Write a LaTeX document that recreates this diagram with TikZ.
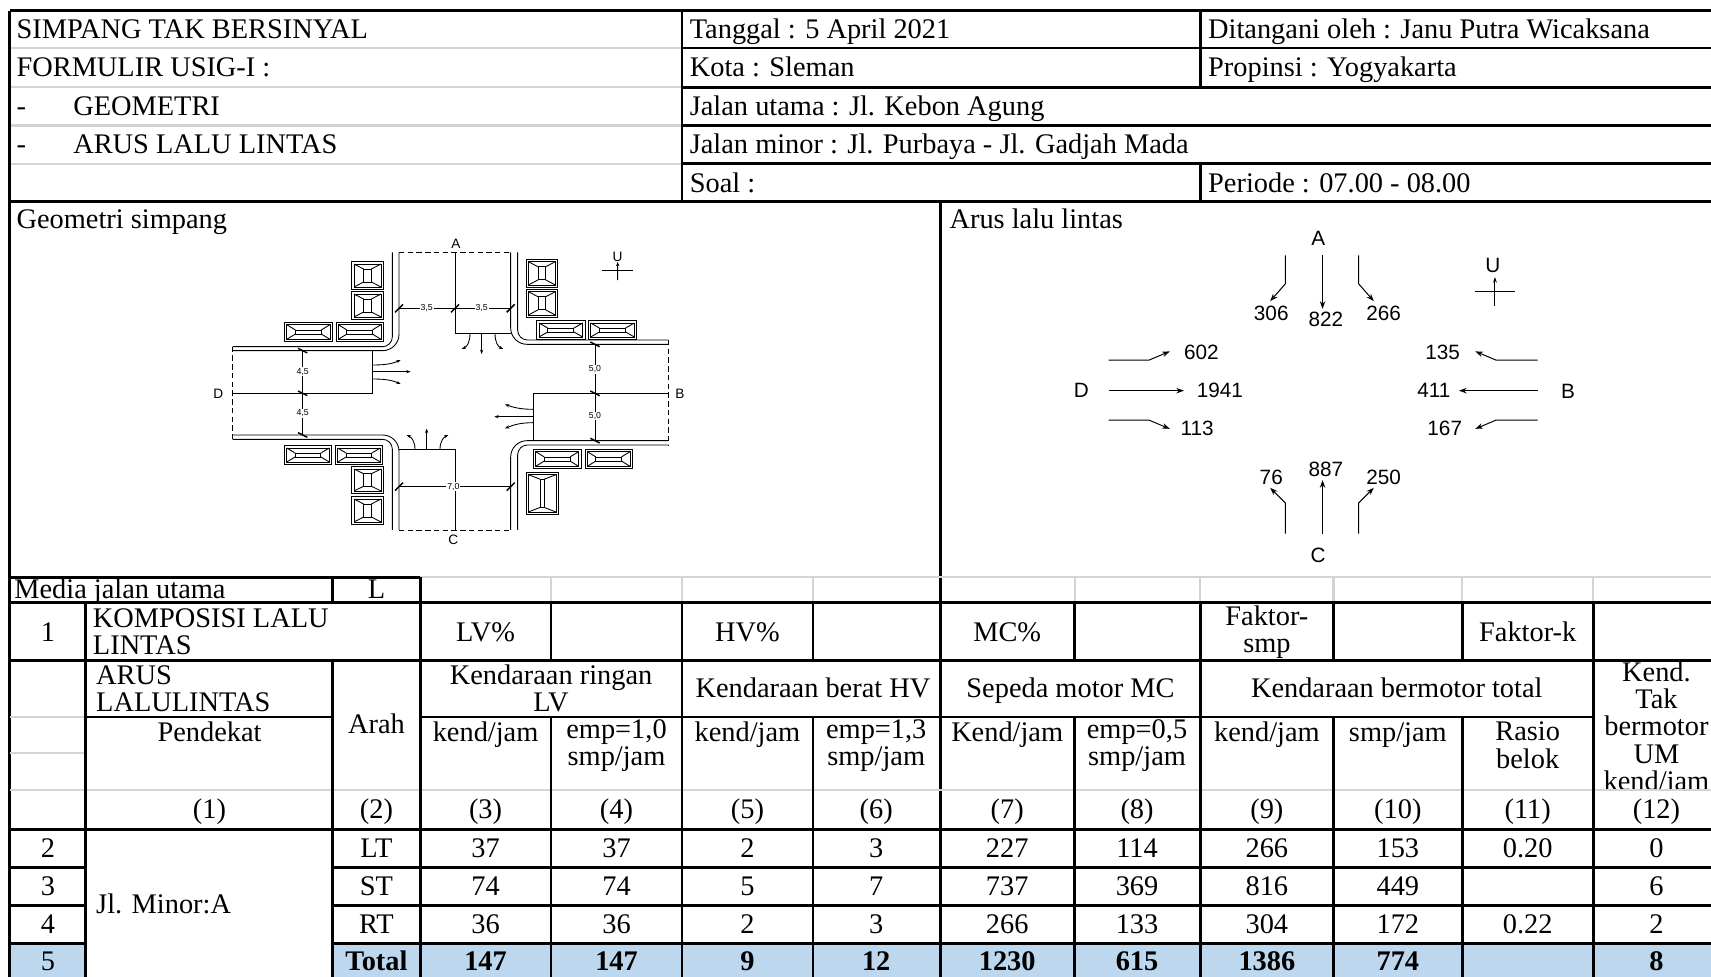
\documentclass[tikz,border=0pt]{standalone}
\usepackage{fontspec}
\setmainfont{Liberation Serif}
\newfontfamily\cad{Liberation Sans}
\usetikzlibrary{arrows.meta}
\definecolor{birumuda}{RGB}{189,215,238}
\definecolor{abuabu}{RGB}{212,212,212}

\begin{document}
\begin{tikzpicture}[x=1pt,y=-1pt,
  tebal/.style={line width=2.6pt},
  abu/.style={draw=abuabu,line width=2pt},
  sel/.style={inner sep=0pt,text height=17pt,text depth=0pt},
  kiri/.style={sel,anchor=west},
  blok/.style={inner sep=0pt,align=center},
  tipis/.style={line width=0.8pt},
  tik/.style={line width=1.3pt},
  ukuran/.style={fill=white,inner sep=0.8pt,font=\cad\fontsize{8}{8}\selectfont},
  huruf/.style={inner sep=0pt,font=\cad\fontsize{12.5}{12.5}\selectfont},
  angka/.style={inner sep=0pt,font=\cad\fontsize{19}{19}\selectfont},
  panahkecil/.style={-{Stealth[length=4pt,width=3pt]}},
  panah/.style={line width=0.9pt,-{Stealth[length=7pt,width=5pt]}},
]
\fontsize{26}{25}\selectfont
\useasboundingbox (0,0) rectangle (1568,895);
\clip (0,0) rectangle (1568,895);

\newcommand\mobil[6]{
\pgfmathsetmacro\mXa{#1+7}\pgfmathsetmacro\mYa{#2+7}
\pgfmathsetmacro\mXb{#3-7}\pgfmathsetmacro\mYb{#4-7}
\pgfmathsetmacro\mXc{\mXa+#5*(\mXb-\mXa)}\pgfmathsetmacro\mXd{\mXb-#5*(\mXb-\mXa)}
\pgfmathsetmacro\mYc{\mYa+#6*(\mYb-\mYa)}\pgfmathsetmacro\mYd{\mYb-#6*(\mYb-\mYa)}
\draw (#1,#2) rectangle (#3,#4);
\draw (\mXa,\mYa) rectangle (\mXb,\mYb);
\draw (\mXc,\mYc) rectangle (\mXd,\mYd);
\draw (\mXa,\mYa) -- (\mXc,\mYc) (\mXb,\mYa) -- (\mXd,\mYc);
\draw (\mXa,\mYb) -- (\mXc,\mYd) (\mXb,\mYb) -- (\mXd,\mYd);
}

% warna baris total
\fill[birumuda] (9,865) rectangle (78,895);
\fill[birumuda] (305,865) rectangle (1568,895);

% kepala formulir
\draw[abu] (9,44) -- (625,44);
\draw[abu] (9,80) -- (625,80);
\draw[abu] (9,115) -- (625,115);
\draw[abu] (9,150) -- (625,150);
\draw[tebal] (625,44) -- (1568,44);
\draw[tebal] (625,80) -- (1568,80);
\draw[tebal] (625,115) -- (1568,115);
\draw[tebal] (625,150) -- (1568,150);
\draw[tebal] (9,10) -- (1568,10);
\draw[tebal] (9,10) -- (9,895);
\draw[tebal] (9,185) -- (1568,185);
\draw[tebal] (625,10) -- (625,185);
\draw[tebal] (1100,10) -- (1100,80);
\draw[tebal] (1100,150) -- (1100,185);
\draw[tebal] (862,185) -- (862,895);

\node[kiri] (judul) at (15,27) {SIMPANG TAK BERSINYAL};
\node[kiri] (formulir) at (15,62) {FORMULIR USIG-I :};
\node[kiri] (strip1) at (15,97) {-};
\node[kiri] (geometri) at (67,97) {GEOMETRI};
\node[kiri] (strip2) at (15,132) {-};
\node[kiri] (aruslalin) at (67,132) {ARUS LALU LINTAS};
\node[kiri] (tanggal) at (632,27) {Tanggal : 5 April 2021};
\node[kiri] (kota) at (632,62) {Kota : Sleman};
\node[kiri] (jlutama) at (632,97) {Jalan utama : Jl. Kebon Agung};
\node[kiri] (jlminor) at (632,132) {Jalan minor : Jl. Purbaya - Jl. Gadjah Mada};
\node[kiri] (soal) at (632,168) {Soal :};
\node[kiri] (ditangani) at (1107,27) {Ditangani oleh : Janu Putra Wicaksana};
\node[kiri] (propinsi) at (1107,62) {Propinsi : Yogyakarta};
\node[kiri] (periode) at (1107,168) {Periode : 07.00 - 08.00};
\node[kiri] (lblgeo) at (15,201) {Geometri simpang};
\node[kiri] (lblarus) at (870,201) {Arus lalu lintas};

% sketsa geometri simpang
\begin{scope}[shift={(164.96,183.28)},scale=0.30547,tipis]
\draw[rounded corners=9pt] (637,157) -- (637,440) -- (158,440);
\draw[rounded corners=15pt] (657,157) -- (657,452) -- (158,452);
\draw[rounded corners=9pt] (1013,157) -- (1013,420) -- (1465,420);
\draw[rounded corners=15pt] (992,157) -- (992,433) -- (1465,433);
\draw[rounded corners=15pt] (158,705) -- (657,705) -- (657,990);
\draw[rounded corners=9pt] (158,718) -- (637,718) -- (637,990);
\draw[rounded corners=15pt] (1465,722) -- (992,722) -- (992,990);
\draw[rounded corners=9pt] (1465,735) -- (1013,735) -- (1013,990);
\draw[dash pattern=on 5pt off 3pt] (657,157) -- (992,157);
\draw[dash pattern=on 5pt off 3pt] (657,990) -- (992,990);
\draw[dash pattern=on 5pt off 3pt] (158,440) -- (158,718);
\draw[dash pattern=on 5pt off 3pt] (1465,420) -- (1465,735);
\draw (825,157) -- (825,400) -- (992,400);
\draw (158,580) -- (578,580) -- (578,452);
\draw (1465,580) -- (1060,580) -- (1060,722);
\draw (657,748) -- (825,748) -- (825,990);

\draw (657,325) -- (992,325);
\draw (368,452) -- (368,705);
\draw (1245,433) -- (1245,722);
\draw (657,860) -- (992,860);
\draw[tik] (645,337) -- (669,313) (813,337) -- (837,313) (980,337) -- (1004,313);
\draw[tik] (645,872) -- (669,848) (980,872) -- (1004,848);
\draw[tik] (354,445) -- (382,459) (354,573) -- (382,587) (354,698) -- (382,712);
\draw[tik] (1231,426) -- (1259,440) (1231,573) -- (1259,587) (1231,715) -- (1259,729);
\node[ukuran] (u35a) at (740,325) {3,5};
\node[ukuran] (u35b) at (905,325) {3,5};
\node[ukuran] (u45a) at (368,515) {4,5};
\node[ukuran] (u45b) at (368,640) {4,5};
\node[ukuran] (u50a) at (1245,508) {5,0};
\node[ukuran] (u50b) at (1245,648) {5,0};
\node[ukuran] (u70) at (820,860) {7,0};

\draw[panahkecil] (870,400) .. controls (870,425) and (862,440) .. (845,447);
\draw[panahkecil] (905,400) -- (905,462);
\draw[panahkecil] (945,400) .. controls (945,425) and (953,440) .. (970,447);
\draw[panahkecil] (578,495) .. controls (620,495) and (640,490) .. (662,480);
\draw[panahkecil] (578,515) -- (692,515);
\draw[panahkecil] (578,537) .. controls (620,537) and (640,542) .. (662,552);
\draw[panahkecil] (1060,628) .. controls (1020,628) and (1000,622) .. (975,613);
\draw[panahkecil] (1060,650) -- (943,650);
\draw[panahkecil] (1060,668) .. controls (1020,668) and (1000,675) .. (975,685);
\draw[panahkecil] (705,748) .. controls (705,725) and (695,712) .. (680,705);
\draw[panahkecil] (740,748) -- (740,686);
\draw[panahkecil] (780,748) .. controls (780,725) and (790,712) .. (805,705);

\node[huruf] (geoA) at (828,130) {A};
\node[huruf] (geoB) at (1500,580) {B};
\node[huruf] (geoC) at (820,1020) {C};
\node[huruf] (geoD) at (115,580) {D};
\node[huruf] (geoU) at (1313,170) {U};
\draw (1265,210) -- (1360,210);
\draw[panahkecil] (1313,240) -- (geoU.south);

\mobil{515}{185}{610}{268}{0.36}{0.22}
\mobil{515}{275}{610}{358}{0.36}{0.22}
\mobil{313}{367}{457}{425}{0.2}{0.36}
\mobil{468}{367}{610}{425}{0.2}{0.36}
\mobil{1038}{178}{1133}{262}{0.36}{0.22}
\mobil{1038}{268}{1133}{352}{0.36}{0.22}
\mobil{1070}{362}{1215}{418}{0.2}{0.36}
\mobil{1225}{362}{1370}{418}{0.2}{0.36}
\mobil{313}{737}{455}{793}{0.2}{0.36}
\mobil{466}{737}{608}{793}{0.2}{0.36}
\mobil{515}{800}{610}{880}{0.36}{0.22}
\mobil{515}{890}{610}{973}{0.36}{0.22}
\mobil{1060}{748}{1203}{806}{0.2}{0.36}
\mobil{1215}{748}{1357}{806}{0.2}{0.36}
\mobil{1038}{817}{1135}{943}{0.42}{0.12}
\end{scope}

% arus lalu lintas
\node[angka] (arusA) at (1208,218) {A};
\node[angka] (arusB) at (1437,359) {B};
\node[angka] (arusC) at (1208,509) {C};
\node[angka] (arusD) at (991,358) {D};
\node[angka] (arusU) at (1368,243) {U};
\draw[line width=0.9pt] (1352,267) -- (1388,267);
\draw[panah,-{Stealth[length=5pt,width=3.5pt]}] (1370,280) -- (1370,254);
\draw[panah] (1178,234) -- (1178,260) -- (1164,276);
\draw[panah] (1212,234) -- (1212,283);
\draw[panah] (1245,234) -- (1245,260) -- (1259,276);
\node[angka] (a306) at (1165,287) {306};
\node[angka] (a822) at (1215,293) {822};
\node[angka] (a266) at (1268,287) {266};
\draw[panah] (1016,330) -- (1053,330) -- (1072,322);
\draw[panah] (1016,358) -- (1085,358);
\draw[panah] (1016,385) -- (1053,385) -- (1072,393);
\node[angka] (d602) at (1101,323) {602};
\node[angka] (d1941) at (1118,358) {1941};
\node[angka] (d113) at (1097,393) {113};
\draw[panah] (1409,330) -- (1371,330) -- (1352,322);
\draw[panah] (1409,358) -- (1337,358);
\draw[panah] (1409,385) -- (1371,385) -- (1352,393);
\node[angka] (b135) at (1322,323) {135};
\node[angka] (b411) at (1314,358) {411};
\node[angka] (b167) at (1324,393) {167};
\draw[panah] (1178,489) -- (1178,461) -- (1164,447);
\draw[panah] (1212,489) -- (1212,440);
\draw[panah] (1245,489) -- (1245,461) -- (1259,447);
\node[angka] (c76) at (1165,437) {76};
\node[angka] (c887) at (1215,430) {887};
\node[angka] (c250) at (1268,437) {250};

% tabel komposisi
\draw[abu] (385,529) -- (1568,529);
\draw[abu] (505,529) -- (505,552) (625,529) -- (625,552) (745,529) -- (745,552);
\draw[abu] (985,529) -- (985,552) (1100,529) -- (1100,552) (1222,529) -- (1222,552);
\draw[abu] (1340,529) -- (1340,552) (1460,529) -- (1460,552);
\draw[abu] (9,657) -- (78,657);
\draw[abu] (9,690) -- (78,690);
\draw[abu] (9,724) -- (1568,724);
\draw[tebal] (9,529) -- (385,529);
\draw[tebal] (305,529) -- (305,552);
\draw[tebal] (9,552) -- (1568,552);
\draw[tebal] (9,605) -- (1568,605);
\draw[tebal] (78,657) -- (305,657);
\draw[tebal] (385,657) -- (1460,657);
\draw[tebal] (9,760) -- (1568,760);
\draw[tebal] (9,795) -- (78,795) (305,795) -- (1568,795);
\draw[tebal] (9,830) -- (78,830) (305,830) -- (1568,830);
\draw[tebal] (9,865) -- (78,865) (305,865) -- (1568,865);
\draw[tebal] (78,552) -- (78,895);
\draw[tebal] (305,605) -- (305,895);
\draw[tebal] (385,529) -- (385,895);
\draw[tebal] (625,552) -- (625,895);
\draw[tebal] (1100,552) -- (1100,895);
\draw[tebal] (1460,552) -- (1460,895);
\draw[tebal] (505,552) -- (505,605) (505,657) -- (505,895);
\draw[tebal] (745,552) -- (745,605) (745,657) -- (745,895);
\draw[tebal] (985,552) -- (985,605) (985,657) -- (985,895);
\draw[tebal] (1222,552) -- (1222,605) (1222,657) -- (1222,895);
\draw[tebal] (1340,552) -- (1340,605) (1340,657) -- (1340,895);

\node[kiri] (media) at (13,540) {Media jalan utama};
\node[sel] (mediaL) at (345,540) {L};
\node[sel] (no1) at (44,579) {1};
\node[blok,align=left,anchor=west] (komposisi) at (85,579) {KOMPOSISI LALU\\LINTAS};
\node[sel] (lvpersen) at (445,579) {LV\%};
\node[sel] (hvpersen) at (685,579) {HV\%};
\node[sel] (mcpersen) at (923,579) {MC\%};
\node[blok] (faktorsmp) at (1161,579) {Faktor-\\smp};
\node[sel] (faktork) at (1400,579) {Faktor-k};

\node[blok,align=left,anchor=west] (arus) at (88,631) {ARUS\\LALULINTAS};
\node[sel] (arah) at (345,664) {Arah};
\node[blok] (kendlv) at (505,631) {Kendaraan ringan\\LV};
\node[sel] (kendhv) at (745,631) {Kendaraan berat HV};
\node[sel] (kendmc) at (981,631) {Sepeda motor MC};
\node[sel] (kendtotal) at (1280,631) {Kendaraan bermotor total};
\begin{scope}
\clip (1460,606) rectangle (1568,723);
\node[blok] (kendum) at (1518,668) {Kend.\\Tak\\bermotor\\UM\\kend/jam};
\end{scope}

\node[sel] (pendekat) at (192,671) {Pendekat};
\node[sel] (kj3) at (445,671) {kend/jam};
\node[blok] (emp4) at (565,683) {emp=1,0\\smp/jam};
\node[sel] (kj5) at (685,671) {kend/jam};
\node[blok] (emp6) at (803,683) {emp=1,3\\smp/jam};
\node[sel] (kj7) at (923,671) {Kend/jam};
\node[blok] (emp8) at (1042,683) {emp=0,5\\smp/jam};
\node[sel] (kj9) at (1161,671) {kend/jam};
\node[sel] (sj10) at (1281,671) {smp/jam};
\node[blok] (rasio) at (1400,683) {Rasio\\belok};

\node[sel] (k1) at (192,742) {(1)};
\node[sel] (k2) at (345,742) {(2)};
\node[sel] (k3) at (445,742) {(3)};
\node[sel] (k4) at (565,742) {(4)};
\node[sel] (k5) at (685,742) {(5)};
\node[sel] (k6) at (803,742) {(6)};
\node[sel] (k7) at (923,742) {(7)};
\node[sel] (k8) at (1042,742) {(8)};
\node[sel] (k9) at (1161,742) {(9)};
\node[sel] (k10) at (1281,742) {(10)};
\node[sel] (k11) at (1400,742) {(11)};
\node[sel] (k12) at (1518,742) {(12)};

\node[kiri] (jlminorA) at (88,829) {Jl. Minor:A};

\node[sel] (b2k0) at (44,777) {2};
\node[sel] (b2k2) at (345,777) {LT};
\node[sel] (b2k3) at (445,777) {37};
\node[sel] (b2k4) at (565,777) {37};
\node[sel] (b2k5) at (685,777) {2};
\node[sel] (b2k6) at (803,777) {3};
\node[sel] (b2k7) at (923,777) {227};
\node[sel] (b2k8) at (1042,777) {114};
\node[sel] (b2k9) at (1161,777) {266};
\node[sel] (b2k10) at (1281,777) {153};
\node[sel] (b2k11) at (1400,777) {0.20};
\node[sel] (b2k12) at (1518,777) {0};

\node[sel] (b3k0) at (44,812) {3};
\node[sel] (b3k2) at (345,812) {ST};
\node[sel] (b3k3) at (445,812) {74};
\node[sel] (b3k4) at (565,812) {74};
\node[sel] (b3k5) at (685,812) {5};
\node[sel] (b3k6) at (803,812) {7};
\node[sel] (b3k7) at (923,812) {737};
\node[sel] (b3k8) at (1042,812) {369};
\node[sel] (b3k9) at (1161,812) {816};
\node[sel] (b3k10) at (1281,812) {449};
\node[sel] (b3k12) at (1518,812) {6};

\node[sel] (b4k0) at (44,847) {4};
\node[sel] (b4k2) at (345,847) {RT};
\node[sel] (b4k3) at (445,847) {36};
\node[sel] (b4k4) at (565,847) {36};
\node[sel] (b4k5) at (685,847) {2};
\node[sel] (b4k6) at (803,847) {3};
\node[sel] (b4k7) at (923,847) {266};
\node[sel] (b4k8) at (1042,847) {133};
\node[sel] (b4k9) at (1161,847) {304};
\node[sel] (b4k10) at (1281,847) {172};
\node[sel] (b4k11) at (1400,847) {0.22};
\node[sel] (b4k12) at (1518,847) {2};

\node[sel] (b5k0) at (44,881) {5};
\node[sel,font=\bfseries] (b5k2) at (345,881) {Total};
\node[sel,font=\bfseries] (b5k3) at (445,881) {147};
\node[sel,font=\bfseries] (b5k4) at (565,881) {147};
\node[sel,font=\bfseries] (b5k5) at (685,881) {9};
\node[sel,font=\bfseries] (b5k6) at (803,881) {12};
\node[sel,font=\bfseries] (b5k7) at (923,881) {1230};
\node[sel,font=\bfseries] (b5k8) at (1042,881) {615};
\node[sel,font=\bfseries] (b5k9) at (1161,881) {1386};
\node[sel,font=\bfseries] (b5k10) at (1281,881) {774};
\node[sel,font=\bfseries] (b5k12) at (1518,881) {8};
\end{tikzpicture}
\end{document}
